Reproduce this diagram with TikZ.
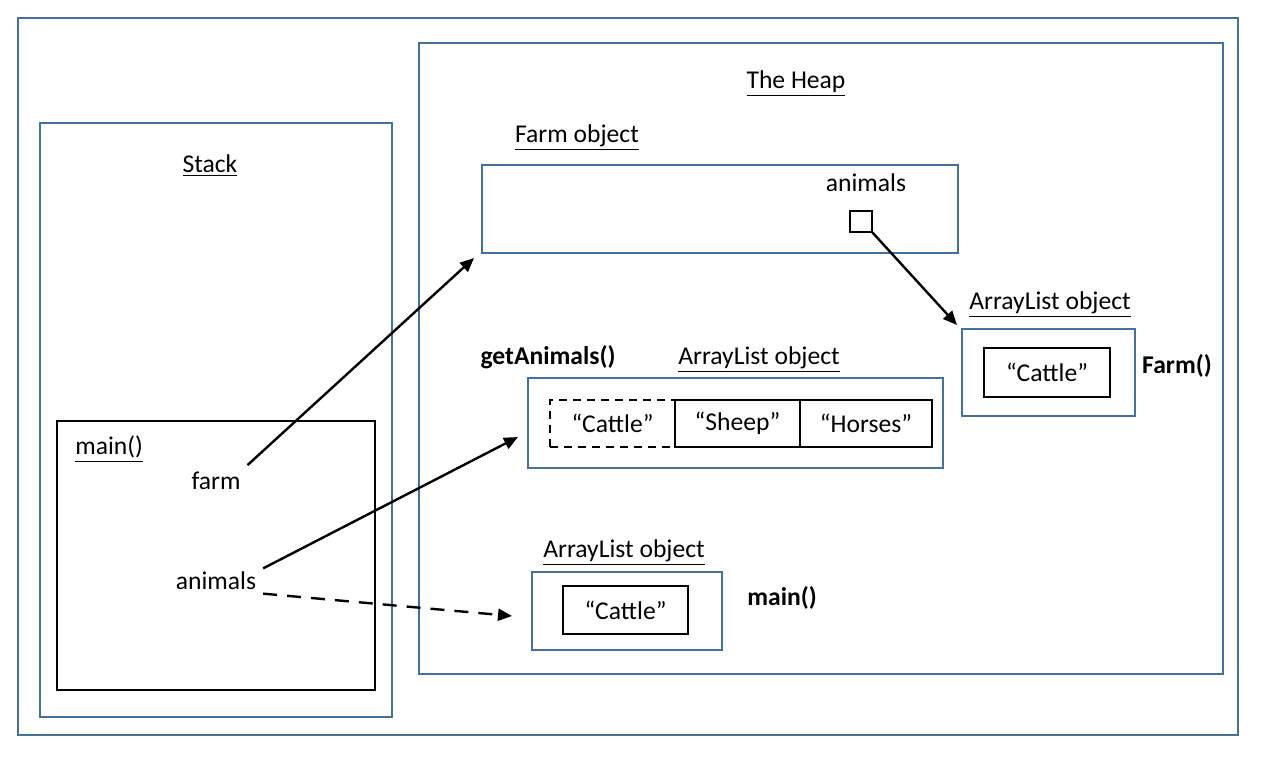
\documentclass[tikz,border=0pt]{standalone}
\usepackage{fontspec}
\setmainfont{Carlito}
\usetikzlibrary{arrows.meta}
\usetikzlibrary{positioning}
\definecolor{heapblue}{RGB}{65,113,156}

\begin{document}
\begin{tikzpicture}[x=0.5pt,y=-0.5pt,font=\fontsize{12.8}{15}\selectfont,
  >={Triangle[length=7pt,width=6pt]}]
 \useasboundingbox (0,0) rectangle (1263,757);
 \tikzstyle{area} = [draw=heapblue, line width=1pt, inner sep=0pt, outer sep=0pt];
 \tikzstyle{cell} = [draw=black, line width=1pt, inner sep=0pt, outer sep=0pt];

 % frames
 \node (outer) [area, minimum width=610pt, minimum height=358.5pt] at (628,376.5) {};
 \node (stack) [area, minimum width=176pt, minimum height=297pt] at (216,420) {};
 \node (heap) [area, minimum width=402pt, minimum height=315.5pt] at (821,358.5) {};
 \node (mainframe) [cell, minimum width=159pt, minimum height=134.5pt] at (216,555.5) {};

 % stack side
 \node (stacklbl) at (210,166) {\underline{Stack}};
 \node (mainlbl) [anchor=west, inner sep=0pt] at (75,449) {\underline{main()}};
 \node (farm) at (216,481) {farm};
 \node (animals) at (216,581) {animals};

 % heap side
 \node (heaplbl) at (796,84) {\underline{The Heap}};
 \node (farmlbl) at (577,138) {\underline{Farm object}};
 \node (farmobj) [area, minimum width=238pt, minimum height=44pt] at (720,209) {};
 \node (fieldlbl) at (866,183) {animals};
 \node (ref) [cell, minimum width=11pt, minimum height=10.5pt] at (861,221.5) {};

 \node (listlblA) at (1050,305) {\underline{ArrayList object}};
 \node (listA) [area, minimum width=86.5pt, minimum height=43.5pt] at (1048.5,372.5) {};
 \node (cattleA) [cell, minimum width=63pt, minimum height=24.5pt] at (1047,372.5) {“Cattle”};
 \node (farmctor) at (1177,366) {\textbf{Farm()}};

 \node (getlbl) at (548,357) {\textbf{getAnimals()}};
 \node (listlblB) at (759,360) {\underline{ArrayList object}};
 \node (listB) [area, minimum width=207.5pt, minimum height=45pt] at (735.5,423) {};
 \node (cattleB) [cell, dash pattern=on 4pt off 3pt, minimum width=62.5pt, minimum height=23.5pt] at (612.5,423.5) {“Cattle”};
 \node (sheepB) [cell, minimum width=62.5pt, minimum height=23.5pt] at (737.5,423.5) {“Sheep”};
 \node (horsesB) [cell, minimum width=66pt, minimum height=23.5pt] at (866,423.5) {“Horses”};

 \node (listlblC) at (624,553) {\underline{ArrayList object}};
 \node (listC) [area, minimum width=95pt, minimum height=39pt] at (627,611) {};
 \node (cattleC) [cell, minimum width=62.5pt, minimum height=24pt] at (625.5,610) {“Cattle”};
 \node (mainctor) at (782,598) {\textbf{main()}};

 % references
 \tikzstyle{C} = [color=black, line width=1.2pt]
 \coordinate (farmend) at (474,258);
 \coordinate (listBend) at (518,437);
 \coordinate (listCend) at (512,616);
 \coordinate (listAend) at (957,325);

 \draw [->, C] (farm.north east) -- (farmend);
 \draw [->, C] (animals.15) -- (listBend);
 \draw [->, C, dash pattern=on 7pt off 5pt] (animals.-15) -- (listCend);
 \draw [->, C] (ref.south east) -- (listAend);
\end{tikzpicture}
\end{document}
